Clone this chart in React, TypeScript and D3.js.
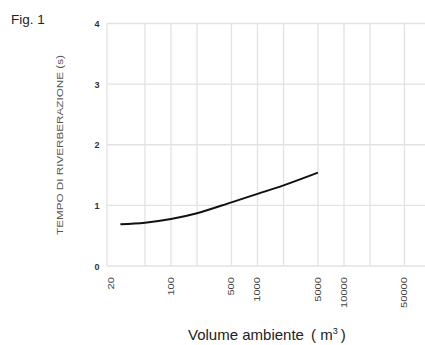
import React, { useEffect, useRef } from "react";
import * as d3 from "d3";

// volume (m3) and reverberation time (s)
const volumes = [26, 50, 100, 200, 500, 1000, 2000, 5000];
const times = [0.69, 0.715, 0.775, 0.87, 1.05, 1.19, 1.33, 1.54];

const gridX = [50, 100, 200, 500, 1000, 2000, 5000, 10000, 20000, 50000];
const tickX = [20, 100, 500, 1000, 5000, 10000, 50000];
const tickY = [0, 1, 2, 3, 4];

const W = 425;
const H = 345;

const App = () => {
  const svgRef = useRef<SVGSVGElement>(null);

  useEffect(() => {
    const svg = d3.select(svgRef.current);
    svg.selectAll("*").remove();

    const left = 107;
    const right = 425;
    const top = 23.5;
    const bottom = 266;

    const x = d3.scaleLog().domain([18.2, 86400]).range([left, right]);
    const y = d3.scaleLinear().domain([0, 4]).range([bottom, top]);

    const grid = svg.append("g").attr("stroke", "#e2e2e2").attr("stroke-width", 1.3);

    // horizontal grid lines
    grid
      .selectAll(".h")
      .data(tickY)
      .enter()
      .append("line")
      .attr("x1", left)
      .attr("x2", right)
      .attr("y1", (d) => y(d))
      .attr("y2", (d) => y(d));

    // vertical grid lines
    grid
      .selectAll(".v")
      .data(gridX)
      .enter()
      .append("line")
      .attr("x1", (d) => x(d))
      .attr("x2", (d) => x(d))
      .attr("y1", top)
      .attr("y2", bottom);

    // left border
    grid.append("line").attr("x1", left).attr("x2", left).attr("y1", top).attr("y2", bottom);

    // y tick labels
    svg
      .append("g")
      .selectAll("text")
      .data(tickY)
      .enter()
      .append("text")
      .attr("x", 97)
      .attr("y", (d) => y(d) + 3.5)
      .attr("text-anchor", "middle")
      .attr("font-family", "Arial, Liberation Sans, sans-serif")
      .attr("font-size", 9)
      .attr("font-weight", "bold")
      .attr("fill", "#333")
      .text((d) => d);

    // x tick labels, rotated
    svg
      .append("g")
      .selectAll("text")
      .data(tickX)
      .enter()
      .append("text")
      .attr("transform", (d) => `translate(${x(d) + 3},277) rotate(-90)`)
      .attr("text-anchor", "end")
      .attr("font-family", "Arial, Liberation Sans, sans-serif")
      .attr("font-size", 8.5)
      .attr("fill", "#444")
      .attr("textLength", (d) => String(d).length * 6.2)
      .attr("lengthAdjust", "spacingAndGlyphs")
      .text((d) => d);

    // curve
    const line = d3
      .line<number>()
      .x((d, i) => x(volumes[i]))
      .y((d) => y(d))
      .curve(d3.curveCatmullRom.alpha(0.5));

    svg
      .append("path")
      .datum(times)
      .attr("d", line)
      .attr("fill", "none")
      .attr("stroke", "#111")
      .attr("stroke-width", 2);

    // y axis title
    svg
      .append("text")
      .attr("transform", "translate(63,145) rotate(-90)")
      .attr("text-anchor", "middle")
      .attr("font-family", "Arial, Liberation Sans, sans-serif")
      .attr("font-size", 8.5)
      .attr("fill", "#555")
      .attr("textLength", 180)
      .attr("lengthAdjust", "spacingAndGlyphs")
      .text("TEMPO DI RIVERBERAZIONE (s)");

    // x axis title
    const xt = svg
      .append("text")
      .attr("x", 188)
      .attr("y", 340)
      .attr("font-family", "Arial, Liberation Sans, sans-serif")
      .attr("font-size", 15)
      .attr("fill", "#222");
    xt.append("tspan").text("Volume ambiente");
    xt.append("tspan").attr("x", 311).text("( m");
    xt.append("tspan").attr("dy", -6.5).attr("font-size", 9).text("3");
    xt.append("tspan").attr("dy", 6.5).attr("dx", 3).text(")");

    // figure label
    svg
      .append("text")
      .attr("x", 11)
      .attr("y", 24)
      .attr("font-family", "Arial, Liberation Sans, sans-serif")
      .attr("font-size", 13.5)
      .attr("fill", "#222")
      .text("Fig. 1");
  }, []);

  return (
    <svg
      ref={svgRef}
      width={W}
      height={H}
      style={{ position: "absolute", left: 0, top: 0, background: "#fff" }}
    ></svg>
  );
};

export default App;
